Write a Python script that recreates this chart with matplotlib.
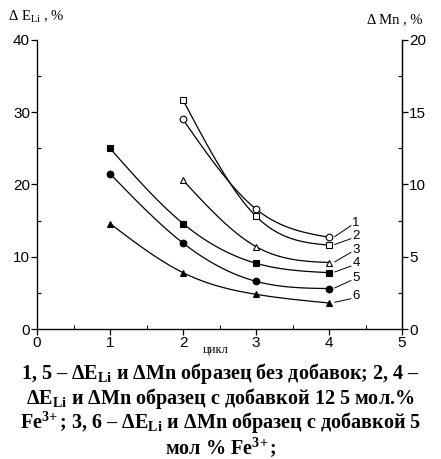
import matplotlib
matplotlib.use("Agg")
import matplotlib.pyplot as plt
import numpy as np

matplotlib.rcParams.update({
    "font.family": "Liberation Sans",
    "mathtext.fontset": "custom",
    "mathtext.rm": "Liberation Serif:bold",
    "mathtext.bf": "Liberation Serif:bold",
    "mathtext.it": "Liberation Serif:bold",
    "mathtext.sf": "Liberation Serif",
})

# ── Data (left-axis units) ────────────────────────────────────────────────────
cycles_full = [1, 2, 3, 4]
cycles_part = [2, 3, 4]
curve1 = [29.0, 16.6, 12.7]        # open circles
curve2 = [31.7, 15.6, 11.6]        # open squares
curve3 = [20.6, 11.4, 9.2]         # open triangles
curve4 = [25.0, 14.6, 9.1, 7.8]    # filled squares
curve5 = [21.5, 11.9, 6.6, 5.6]    # filled circles
curve6 = [14.6, 7.8, 4.8, 3.6]     # filled triangles
curve_names = ["1", "2", "3", "4", "5", "6"]
label_y = [14.7, 12.9, 11.0, 9.1, 7.1, 4.6]


def smooth(xs, ys, n=80):
    # natural cubic spline through the points, only for drawing the line
    xs = np.asarray(xs, float)
    ys = np.asarray(ys, float)
    k = len(xs)
    h = np.diff(xs)
    A = np.zeros((k, k))
    b = np.zeros(k)
    A[0, 0] = A[-1, -1] = 1
    for i in range(1, k - 1):
        A[i, i - 1] = h[i - 1]
        A[i, i] = 2 * (h[i - 1] + h[i])
        A[i, i + 1] = h[i]
        b[i] = 6 * ((ys[i + 1] - ys[i]) / h[i] - (ys[i] - ys[i - 1]) / h[i - 1])
    M = np.linalg.solve(A, b)
    xx = np.linspace(xs[0], xs[-1], n)
    idx = np.clip(np.searchsorted(xs, xx) - 1, 0, k - 2)
    x0, x1 = xs[idx], xs[idx + 1]
    hh = x1 - x0
    t0, t1 = x1 - xx, xx - x0
    yy = (M[idx] * t0 ** 3 + M[idx + 1] * t1 ** 3) / (6 * hh) \
        + (ys[idx] / hh - M[idx] * hh / 6) * t0 \
        + (ys[idx + 1] / hh - M[idx + 1] * hh / 6) * t1
    return xx, yy


fig = plt.figure(figsize=(4.41, 4.59), dpi=100)
ax = fig.add_axes([0.0839, 0.2832, 0.8277, 0.6297])

series = [
    (cycles_part, curve1, "o", "white"),
    (cycles_part, curve2, "s", "white"),
    (cycles_part, curve3, "^", "white"),
    (cycles_full, curve4, "s", "black"),
    (cycles_full, curve5, "o", "black"),
    (cycles_full, curve6, "^", "black"),
]
for (xs, ys, mk, fc), name, ly in zip(series, curve_names, label_y):
    xx, yy = smooth(xs, ys)
    ax.plot(xx, yy, color="black", lw=0.9, zorder=2)
    ax.plot(xs, ys, ls="none", marker=mk, ms=4.8, mfc=fc, mec="black",
            mew=0.8, zorder=3)
    # leader line to curve number
    ax.plot([xs[-1] + 0.08, 4.3], [ys[-1] + 0.1, ly - 0.4],
            color="black", lw=0.7)
    ax.text(4.32, ly, name, fontsize=9.5, ha="left", va="center")

ax.set_xlim(0, 5)
ax.set_ylim(0, 40)
ax.set_xticks(range(0, 6))
ax.set_yticks(range(0, 41, 10))
ax.set_xticks(np.arange(0.5, 5, 1), minor=True)
ax.set_yticks(np.arange(5, 40, 10), minor=True)
ax.tick_params(which="major", direction="out", length=4, width=0.9,
               labelsize=11, pad=1)
ax.tick_params(which="minor", direction="in", length=3, width=0.8)
ax.spines["top"].set_visible(False)
for s in ["left", "bottom", "right"]:
    ax.spines[s].set_linewidth(0.9)

ax2 = ax.twinx()
ax2.set_ylim(0, 20)
ax2.set_yticks(range(0, 21, 5))
ax2.set_yticks(np.arange(2.5, 20, 5), minor=True)
ax2.tick_params(which="major", direction="out", length=4, width=0.9,
                labelsize=11, pad=1)
ax2.tick_params(which="minor", direction="in", length=3, width=0.8)
ax2.spines["top"].set_visible(False)
ax2.spines["right"].set_linewidth(0.9)

fig.text(0.018, 0.962, "Δ E$_{\\mathsf{Li}}$ , %", fontsize=10.5,
         family="Liberation Serif", ha="left", va="center")
fig.text(0.832, 0.957, "Δ Mn , %", fontsize=10.5,
         family="Liberation Serif", ha="left", va="center")
fig.text(0.49, 0.237, "цикл", fontsize=9, family="Liberation Serif",
         ha="center", va="center")

caption = [
    "1, 5 – ΔE$_{\\rm Li}$ и ΔMn образец без добавок; 2, 4 –",
    "ΔE$_{\\rm Li}$ и ΔMn образец с добавкой 12 5 мол.%",
    "Fe$^{3\\!+}$; 3, 6 – ΔE$_{\\rm Li}$ и ΔMn образец с добавкой 5",
    "мол % Fe$^{3\\!+}$;",
]
for i, line in enumerate(caption):
    fig.text(0.5, 0.187 - i * 0.0545, line, fontsize=14.5,
             family="Liberation Serif", fontweight="bold",
             ha="center", va="center")

fig.savefig("out.png", dpi=100)
